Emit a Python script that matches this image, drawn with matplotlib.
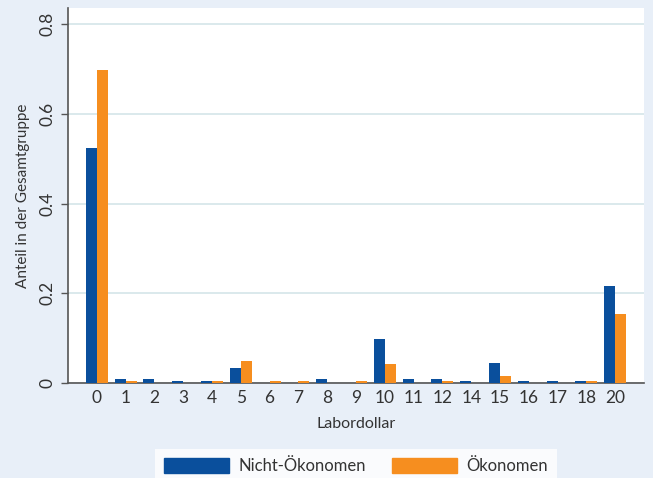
import numpy as np
import matplotlib
matplotlib.use("Agg")
import matplotlib.pyplot as plt
from matplotlib.patches import Patch

plt.rcParams["font.family"] = ["Lato", "DejaVu Sans"]

# ---- data ----
labels = ["0", "1", "2", "3", "4", "5", "6", "7", "8", "9", "10",
          "11", "12", "14", "15", "16", "17", "18", "20"]
nicht_oek = [0.524, 0.010, 0.010, 0.005, 0.005, 0.034, 0.0, 0.0, 0.010, 0.0, 0.098,
             0.010, 0.010, 0.005, 0.045, 0.005, 0.005, 0.005, 0.216]
oek = [0.697, 0.005, 0.0, 0.0, 0.005, 0.049, 0.005, 0.005, 0.0, 0.005, 0.042,
       0.0, 0.005, 0.0, 0.016, 0.0, 0.0, 0.005, 0.154]
yticks = [0, 0.2, 0.4, 0.6, 0.8]
ytick_labels = ["0", "0.2", "0.4", "0.6", "0.8"]

# ---- style ----
BLUE = "#0a4f9c"
ORANGE = "#f68e1f"
BG = "#e8eff8"
GRID = "#dbe9ec"
TXT = "#333333"

W, H = 653, 478
fig = plt.figure(figsize=(W / 100, H / 100), dpi=100, facecolor=BG)
ax = fig.add_axes([68 / W, (H - 383) / H, (644 - 68) / W, (383 - 8) / H])
ax.set_facecolor("white")

x = np.arange(len(labels))
bw = 0.38
ax.bar(x - bw / 2, nicht_oek, width=bw, color=BLUE, zorder=3)
ax.bar(x + bw / 2, oek, width=bw, color=ORANGE, zorder=3)

ax.set_xlim(-1, len(labels))
ax.set_ylim(0, 0.836)

ax.set_yticks(yticks)
ax.set_yticklabels(ytick_labels, rotation=90, va="center", fontsize=12.5, color=TXT)
ax.set_xticks(x)
ax.set_xticklabels(labels, fontsize=12.5, color=TXT)
ax.tick_params(axis="x", length=0, pad=5)
ax.tick_params(axis="y", length=5, width=1, color="#555555", pad=4)

ax.grid(axis="y", color=GRID, linewidth=1.4, zorder=0)
for s in ["top", "right"]:
    ax.spines[s].set_visible(False)
for s in ["left", "bottom"]:
    ax.spines[s].set_color("#555555")
    ax.spines[s].set_linewidth(1.2)

ax.set_xlabel("Labordollar", fontsize=11.5, color=TXT, labelpad=8)
ax.set_ylabel("Anteil in der Gesamtgruppe", fontsize=11, color=TXT, labelpad=7)

handles = [Patch(color=BLUE, label="Nicht-Ökonomen"),
           Patch(color=ORANGE, label="Ökonomen")]
leg = fig.legend(handles=handles, loc="upper center", ncol=2,
                 bbox_to_anchor=(356 / W, 1 - 449 / H),
                 frameon=True, fancybox=False, fontsize=12,
                 handlelength=3.9, handleheight=0.95, handletextpad=0.55,
                 columnspacing=1.6, borderpad=0.55, borderaxespad=0)
leg.get_frame().set_facecolor("white")
leg.get_frame().set_edgecolor("white")
leg.get_frame().set_linewidth(0)
for t in leg.get_texts():
    t.set_color(TXT)

fig.savefig("out.png", dpi=100, facecolor=BG)
